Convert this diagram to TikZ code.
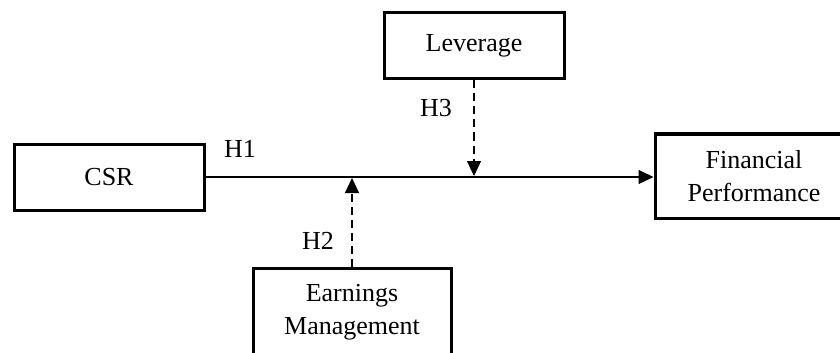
\documentclass[tikz,border=0pt]{standalone}
\usepackage{fontspec}
\setmainfont{Liberation Serif}
\usetikzlibrary{arrows.meta}
\begin{document}
\begin{tikzpicture}[x=0.5pt,y=-0.5pt,
  box/.style={draw,line width=1.5pt,inner sep=0pt,align=center,
    font=\fontsize{13}{16.5}\selectfont},
  lbl/.style={inner sep=0pt,font=\fontsize{13}{16.5}\selectfont},
  conn/.style={line width=0.6pt,-{Triangle[length=7.5pt,width=7pt]}},
  modconn/.style={conn,dash pattern=on 4pt off 2.5pt}]
\clip (0,0) rectangle (840,353);
\node[box,minimum width=95pt,minimum height=33pt] (csr) at (109,177) {CSR};
\node[box,minimum width=90pt,minimum height=33pt] (lev) at (474,46) {Leverage};
\node[box,minimum width=99pt,minimum height=42pt] (fp) at (754,176) {Financial\\Performance};
\node[box,minimum width=99pt,minimum height=44pt] (em) at (352,312) {Earnings\\Management};
\coordinate (j3) at (474,176);
\coordinate (j2) at (352,178);
\draw[conn] (csr.east) -- (csr.east -| fp.west);
\draw[modconn] (lev.south) -- (j3);
\draw[modconn] (em.north) -- (j2);
\node[lbl] (h1) at (240,149) {H1};
\node[lbl] (h3) at (436,108) {H3};
\node[lbl] (h2) at (318,241) {H2};
\end{tikzpicture}
\end{document}
